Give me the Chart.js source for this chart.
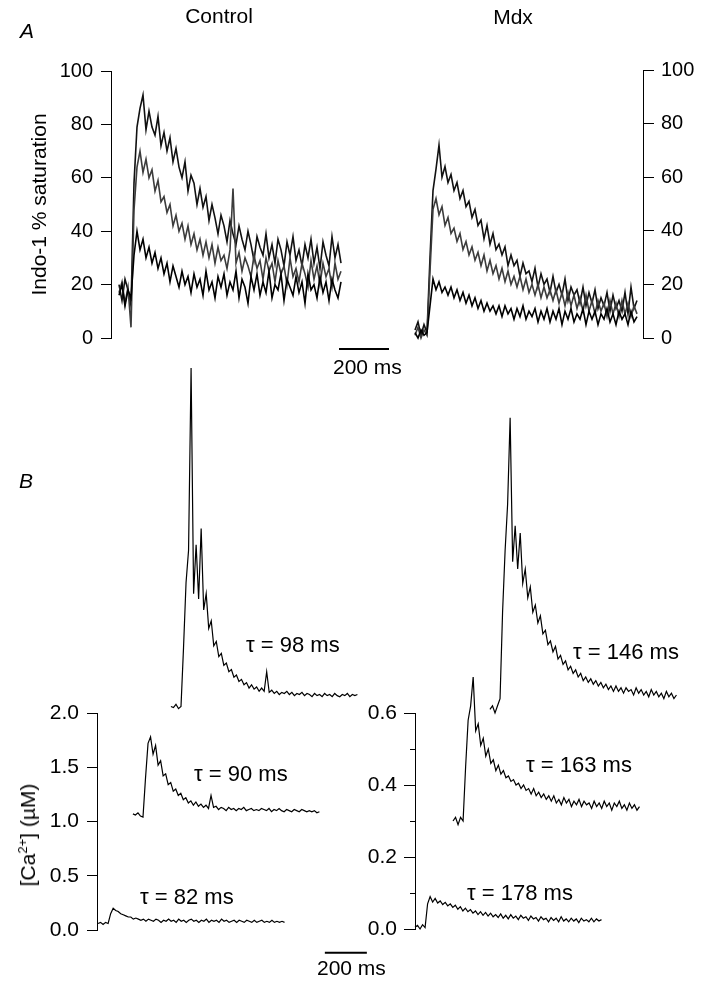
<!doctype html>
<html lang="en">
<head>
  <meta charset="utf-8">
  <title>Indo-1 saturation and [Ca2+] transients: Control vs Mdx</title>
  <style>
    * { margin: 0; padding: 0; }
    body {
      width: 703px;
      height: 983px;
      position: relative;
      overflow: hidden;
      background: white;
      font-family: 'Liberation Sans', Arial, sans-serif;
      color: black;
    }
    canvas { position: absolute; left: 0; top: 0; }
    .lbl { position: absolute; white-space: nowrap; line-height: 1; }
    .panel { font-size: 21px; font-style: italic; }
    .head { font-size: 21px; width: 120px; text-align: center; }
    .bar { font-size: 21px; }
    .tau { font-size: 22px; }
    .ylab {
      position: absolute; white-space: nowrap; font-size: 21px; line-height: 1;
      transform: translate(-50%, -50%) rotate(-90deg);
    }
    .ylab sup { font-size: 13px; }
  </style>
</head>
<body>
  <canvas id="ctlA" width="703" height="983"></canvas>
  <canvas id="mdxA" width="703" height="983"></canvas>
  <canvas id="ctlB" width="703" height="983"></canvas>
  <canvas id="mdxB" width="703" height="983"></canvas>

  <div class="lbl panel" style="left:20px; top:20px;">A</div>
  <div class="lbl panel" style="left:19px; top:470px;">B</div>
  <div class="lbl head" style="left:159px; top:5px;">Control</div>
  <div class="lbl head" style="left:453px; top:6px;">Mdx</div>
  <div class="lbl bar" style="left:333px; top:356px;">200 ms</div>
  <div class="lbl bar" style="left:317px; top:957px;">200 ms</div>
  <div class="lbl tau" style="left:246px; top:634px;">τ = 98 ms</div>
  <div class="lbl tau" style="left:194px; top:763px;">τ = 90 ms</div>
  <div class="lbl tau" style="left:140px; top:886px;">τ = 82 ms</div>
  <div class="lbl tau" style="left:573px; top:641px;">τ = 146 ms</div>
  <div class="lbl tau" style="left:526px; top:754px;">τ = 163 ms</div>
  <div class="lbl tau" style="left:467px; top:882px;">τ = 178 ms</div>
  <div class="ylab" style="left:27px; top:835px;">[Ca<sup>2+</sup>] (µM)</div>

  <script src="https://cdn.jsdelivr.net/npm/chart.js"></script>
  <script>
    // sample times (ms) shared by every trace
    const tMs = [0,12,24,36,48,60,72,84,96,108,
      120,132,144,156,168,180,192,204,216,228,
      240,252,264,276,288,300,312,324,336,348,
      360,372,384,396,408,420,432,444,456,468,
      480,492,504,516,528,540,552,564,576,588,
      600,612,624,636,648,660,672,684,696,708,
      720,732,744,756,768,780,792,804,816,828,
      840,852,864,876,888];

    // A, Control: Indo-1 % saturation
    const ctlA_hi = [20,14,22,18,12,58,79,86,91,78,
      85,79,76,83,72,77,70,75,66,71,
      64,60,66,55,61,58,50,56,49,53,
      44,50,45,39,46,42,36,44,39,35,
      42,37,33,40,35,29,38,34,31,39,
      30,35,28,37,33,27,36,31,38,29,
      33,27,35,30,37,28,34,26,36,31,
      27,38,30,35,28];
    const ctlA_mid = [17,21,13,19,4,48,64,70,62,67,
      60,63,55,59,51,53,47,50,42,46,
      40,43,37,42,35,39,33,37,31,36,
      30,35,28,34,29,31,26,33,56,28,
      32,25,30,27,23,31,26,29,22,30,
      25,28,21,29,24,27,20,30,23,26,
      21,28,24,19,29,22,27,20,28,23,
      26,19,28,22,25];
    const ctlA_lo = [16,20,12,18,15,31,40,33,37,30,
      34,28,32,26,30,24,28,21,27,23,
      19,25,20,23,17,24,19,22,16,25,
      18,21,15,23,19,24,16,21,18,25,
      15,22,19,13,23,18,24,16,21,17,
      25,15,20,18,24,14,22,19,16,23,
      17,21,13,24,18,20,15,23,17,21,
      14,22,18,15,21];

    // A, Mdx
    const mdxA_hi = [3,6,1,5,2,30,55,63,72,60,
      64,58,61,55,58,52,55,49,51,45,
      48,42,44,37,42,35,39,33,35,31,
      34,27,31,27,29,23,28,24,25,21,
      26,19,24,20,22,17,23,17,20,16,
      22,14,19,16,18,13,19,12,17,13,
      18,11,15,12,17,10,16,11,14,10,
      17,9,19,11,14];
    const mdxA_mid = [1,4,0,3,1,25,48,52,46,49,
      42,45,39,41,36,39,33,36,31,34,
      29,32,27,31,25,29,24,27,22,26,
      21,25,20,23,19,23,18,22,17,20,
      16,20,15,19,15,18,14,18,13,17,
      12,17,12,16,11,15,10,16,10,14,
      9,14,10,13,8,14,9,13,8,14,
      9,13,8,12,9];
    const mdxA_lo = [2,0,3,1,2,12,22,18,21,17,
      19,16,19,15,18,14,17,13,16,12,
      15,11,14,10,13,10,12,9,12,8,
      12,9,11,7,11,8,12,7,10,8,
      11,6,10,7,11,6,10,7,11,5,
      10,7,11,6,9,7,11,5,10,7,
      10,5,9,7,11,6,9,5,10,7,
      9,5,10,6,8];

    // B, Control: [Ca2+] (uM), traces shifted along time
    const ctlB_offsets = [5, 171, 352];
    const ctlB_lo = [0.06,0.07,0.05,0.07,0.06,0.15,0.20,0.18,0.17,0.15,
      0.14,0.13,0.12,0.12,0.10,0.11,0.10,0.09,0.10,0.08,
      0.10,0.09,0.08,0.10,0.09,0.07,0.09,0.08,0.10,0.08,
      0.09,0.07,0.10,0.08,0.09,0.07,0.09,0.10,0.08,0.09,
      0.07,0.09,0.08,0.10,0.07,0.09,0.08,0.09,0.07,0.10,
      0.08,0.09,0.07,0.08,0.09,0.07,0.09,0.08,0.07,0.09,
      0.08,0.07,0.09,0.07,0.08,0.09,0.07,0.08,0.07,0.09,
      0.07,0.08,0.07,0.08,0.07];
    const ctlB_mid = [1.07,1.06,1.08,1.05,1.04,1.40,1.72,1.78,1.62,1.70,
      1.52,1.56,1.42,1.44,1.34,1.36,1.28,1.30,1.24,1.26,
      1.20,1.22,1.17,1.19,1.15,1.18,1.14,1.16,1.13,1.15,
      1.12,1.24,1.13,1.14,1.11,1.13,1.12,1.10,1.13,1.11,
      1.12,1.10,1.12,1.11,1.13,1.10,1.11,1.12,1.10,1.11,
      1.10,1.12,1.11,1.10,1.12,1.09,1.11,1.10,1.12,1.10,
      1.09,1.11,1.10,1.09,1.11,1.10,1.09,1.11,1.10,1.09,
      1.10,1.09,1.10,1.08,1.09];
    const ctlB_hi = [2.06,2.05,2.08,2.04,2.06,2.60,3.20,3.50,5.18,3.10,
      3.55,3.05,3.70,2.95,3.10,2.78,2.85,2.62,2.66,2.52,
      2.55,2.44,2.46,2.38,2.40,2.33,2.35,2.29,2.31,2.26,
      2.28,2.23,2.26,2.22,2.24,2.20,2.23,2.20,2.38,2.19,
      2.21,2.18,2.20,2.17,2.19,2.18,2.20,2.17,2.19,2.16,
      2.18,2.17,2.19,2.16,2.18,2.17,2.15,2.18,2.16,2.17,
      2.15,2.18,2.16,2.17,2.15,2.18,2.16,2.15,2.17,2.16,
      2.18,2.15,2.17,2.16,2.17];

    // B, Mdx
    const mdxB_offsets = [0, 181, 357];
    const mdxB_lo = [0.005,0.01,0.0,0.012,0.004,0.07,0.09,0.075,0.085,0.072,
      0.078,0.068,0.074,0.064,0.07,0.06,0.066,0.055,0.062,0.05,
      0.058,0.048,0.054,0.044,0.05,0.04,0.048,0.038,0.046,0.036,
      0.044,0.034,0.04,0.032,0.042,0.03,0.038,0.028,0.04,0.03,
      0.036,0.026,0.038,0.03,0.034,0.024,0.036,0.028,0.032,0.022,
      0.034,0.026,0.03,0.02,0.032,0.024,0.03,0.02,0.034,0.022,
      0.028,0.02,0.03,0.022,0.028,0.018,0.03,0.022,0.026,0.02,
      0.03,0.02,0.028,0.022,0.026];
    const mdxB_mid = [0.30,0.31,0.29,0.31,0.30,0.45,0.58,0.62,0.70,0.55,
      0.57,0.51,0.53,0.48,0.50,0.46,0.47,0.44,0.455,0.43,
      0.44,0.42,0.425,0.41,0.415,0.40,0.405,0.39,0.40,0.385,
      0.39,0.375,0.39,0.37,0.38,0.365,0.375,0.36,0.37,0.355,
      0.37,0.35,0.36,0.345,0.365,0.35,0.36,0.34,0.355,0.345,
      0.36,0.34,0.355,0.345,0.35,0.335,0.355,0.34,0.35,0.335,
      0.355,0.34,0.35,0.33,0.35,0.34,0.355,0.335,0.345,0.33,
      0.35,0.335,0.345,0.33,0.34];
    const mdxB_hi = [0.61,0.62,0.60,0.62,0.64,0.88,1.05,1.18,1.42,1.02,
      1.12,1.00,1.10,0.96,1.00,0.92,0.95,0.88,0.90,0.85,
      0.87,0.82,0.83,0.79,0.80,0.77,0.785,0.75,0.76,0.735,
      0.745,0.72,0.73,0.71,0.72,0.70,0.71,0.69,0.70,0.685,
      0.695,0.68,0.69,0.675,0.685,0.67,0.68,0.665,0.675,0.66,
      0.675,0.66,0.67,0.655,0.67,0.66,0.665,0.65,0.67,0.655,
      0.665,0.65,0.66,0.645,0.665,0.65,0.66,0.645,0.655,0.64,
      0.66,0.645,0.655,0.64,0.65];
    const mdxB_minorTicks = [0.1, 0.3, 0.5];

    // 200 ms calibration bars (x in ms, y in axis units)
    const barA_x = [880, 1080], barA_y = -4.1;
    const barB_x = [1085, 1285], barB_y = -0.21;

    Chart.defaults.font.family = "'Liberation Sans', Arial, sans-serif";
    Chart.defaults.color = '#000';

    function pts(vals, off) {
      return vals.map((v, i) => ({ x: tMs[i] + off, y: v }));
    }
    function barPts(xs, y) {
      return xs.map(x => ({ x: x, y: y }));
    }
    function lineSet(data, color, width) {
      return {
        data: data, borderColor: color, borderWidth: width,
        pointRadius: 0, tension: 0, fill: false, clip: false
      };
    }
    function yAxis(o) {
      return {
        position: o.pos, min: o.min, max: o.max,
        afterFit: s => { s.width = o.w; },
        ticks: { stepSize: o.step, padding: o.pad, font: { size: o.fs }, color: '#000', callback: o.fmt },
        grid: { drawOnChartArea: false, drawTicks: true, tickLength: o.tl, tickColor: '#000', tickWidth: 1 },
        border: { display: true, color: '#000', width: 1 },
        title: o.title || { display: false }
      };
    }
    function baseOptions(pad, xmin, xmax, y) {
      return {
        responsive: false,
        animation: false,
        events: [],
        layout: { padding: pad },
        plugins: { legend: { display: false }, tooltip: { enabled: false } },
        scales: {
          x: { type: 'linear', display: false, min: xmin, max: xmax },
          y: y
        }
      };
    }

    // minor (unlabelled) ticks on the Mdx [Ca2+] axis
    const minorTicks = {
      id: 'minorTicks',
      afterDraw(chart, args, opts) {
        if (!opts.values) return;
        const s = chart.scales.y;
        const ctx = chart.ctx;
        ctx.save();
        ctx.strokeStyle = '#000';
        ctx.lineWidth = 1;
        opts.values.forEach(v => {
          const py = Math.round(s.getPixelForValue(v)) + 0.5;
          ctx.beginPath();
          ctx.moveTo(s.right - 5, py);
          ctx.lineTo(s.right, py);
          ctx.stroke();
        });
        ctx.restore();
      }
    };

    // A - Control
    new Chart(document.getElementById('ctlA'), {
      type: 'line',
      data: { datasets: [
        lineSet(pts(ctlA_lo, 0), '#000', 1.6),
        lineSet(pts(ctlA_mid, 0), '#3c3c3c', 1.6),
        lineSet(pts(ctlA_hi, 0), '#111', 1.6),
        lineSet(barPts(barA_x, barA_y), '#000', 2)
      ] },
      options: baseOptions({ left: 0, top: 71, right: 308, bottom: 645 }, -32, 1104,
        yAxis({ pos: 'left', min: 0, max: 100, step: 20, w: 111, pad: 8, tl: 10, fs: 20,
          title: { display: true, text: 'Indo-1 % saturation', color: '#000',
                   font: { size: 21 }, padding: { top: 28, bottom: 0 } } }))
    });

    // A - Mdx
    new Chart(document.getElementById('mdxA'), {
      type: 'line',
      data: { datasets: [
        lineSet(pts(mdxA_lo, 0), '#000', 1.6),
        lineSet(pts(mdxA_mid, 0), '#3c3c3c', 1.6),
        lineSet(pts(mdxA_hi, 0), '#111', 1.6)
      ] },
      options: baseOptions({ left: 403, top: 70, right: 0, bottom: 645 }, -48, 912,
        yAxis({ pos: 'right', min: 0, max: 100, step: 20, w: 60, pad: 7, tl: 11, fs: 20 }))
    });

    // B - Control
    new Chart(document.getElementById('ctlB'), {
      type: 'line',
      data: { datasets: [
        lineSet(pts(ctlB_lo, ctlB_offsets[0]), '#000', 1.2),
        lineSet(pts(ctlB_mid, ctlB_offsets[1]), '#000', 1.2),
        lineSet(pts(ctlB_hi, ctlB_offsets[2]), '#000', 1.2),
        lineSet(barPts(barB_x, barB_y), '#000', 2)
      ] },
      options: baseOptions({ left: 0, top: 713, right: 336, bottom: 53 }, 0, 1285.7,
        yAxis({ pos: 'left', min: 0, max: 2, step: 0.5, w: 97, pad: 8, tl: 10, fs: 21,
          fmt: v => v.toFixed(1) }))
    });

    // B - Mdx
    new Chart(document.getElementById('mdxB'), {
      type: 'line',
      data: { datasets: [
        lineSet(pts(mdxB_lo, mdxB_offsets[0]), '#000', 1.2),
        lineSet(pts(mdxB_mid, mdxB_offsets[1]), '#000', 1.2),
        lineSet(pts(mdxB_hi, mdxB_offsets[2]), '#000', 1.2)
      ] },
      options: (() => {
        const o = baseOptions({ left: 0, top: 713, right: 18, bottom: 54 }, 0, 1285.7,
          yAxis({ pos: 'left', min: 0, max: 0.6, step: 0.2, w: 415, pad: 7, tl: 11, fs: 21,
            fmt: v => v.toFixed(1) }));
        o.plugins.minorTicks = { values: mdxB_minorTicks };
        return o;
      })(),
      plugins: [minorTicks]
    });
  </script>
</body>
</html>
